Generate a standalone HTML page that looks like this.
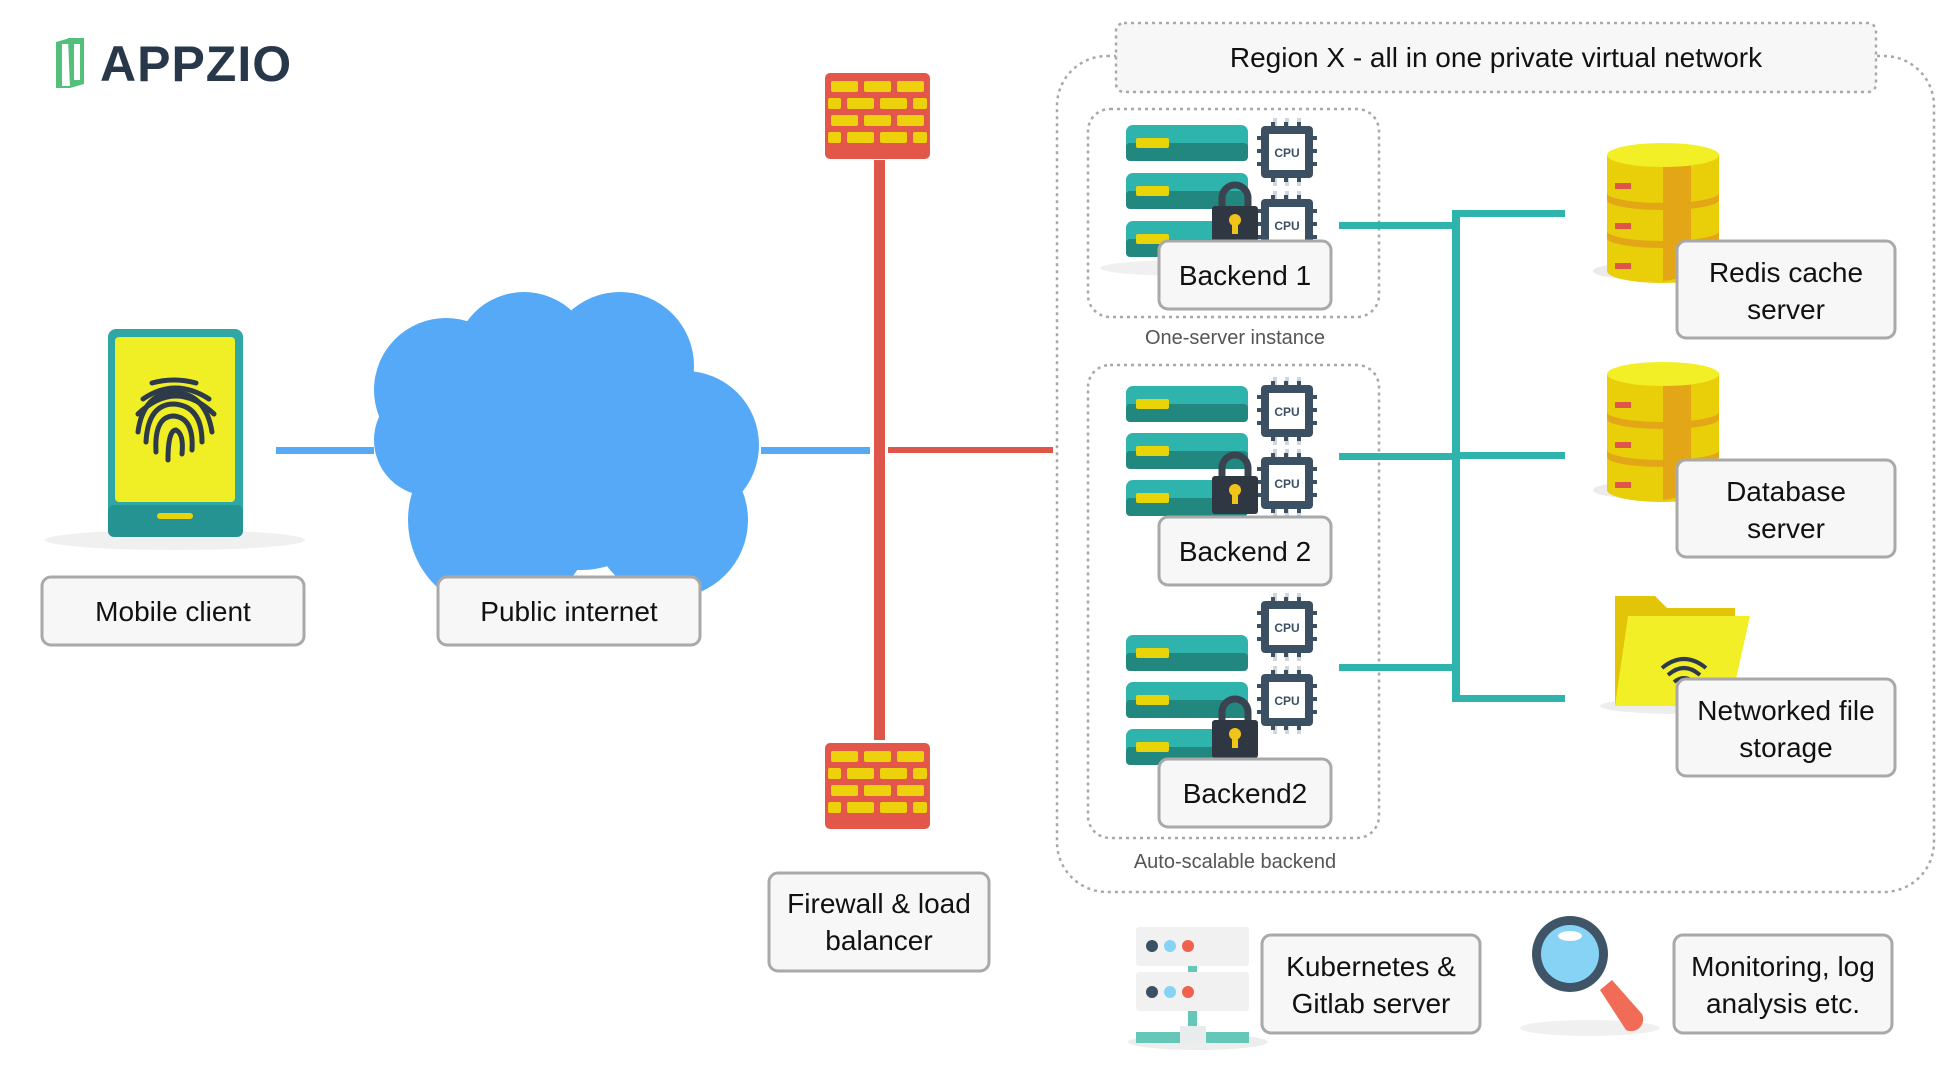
<!DOCTYPE html>
<html><head><meta charset="utf-8"><style>
html,body{margin:0;padding:0;background:#fff;}
svg{display:block;}
text{font-family:"Liberation Sans",sans-serif;}
</style></head><body>
<svg width="1956" height="1074" viewBox="0 0 1956 1074" xmlns="http://www.w3.org/2000/svg">
<defs>
<g id="stackrow">
  <rect x="0" y="0" width="122" height="36" rx="7" fill="#2fb3ad"/>
  <rect x="0" y="18" width="122" height="18" rx="4" fill="#22877f"/>
  <rect x="10" y="13" width="33" height="10" rx="2" fill="#e9d40a"/>
</g>
<g id="cpu">
  <g fill="#cfd6dc">
    <rect x="12" y="-8" width="4" height="8"/><rect x="24" y="-8" width="4" height="8"/><rect x="36" y="-8" width="4" height="8"/>
    <rect x="12" y="52" width="4" height="8"/><rect x="24" y="52" width="4" height="8"/><rect x="36" y="52" width="4" height="8"/>
  </g>
  <g fill="#3c5063">
    <rect x="-4" y="10" width="60" height="4"/><rect x="-4" y="23" width="60" height="4"/><rect x="-4" y="36" width="60" height="4"/>
    <rect x="10" y="-4" width="4" height="60"/><rect x="23" y="-4" width="4" height="60"/><rect x="36" y="-4" width="4" height="60"/>
  </g>
  <rect x="0" y="0" width="52" height="52" rx="4" fill="#3c5063"/>
  <rect x="8" y="8" width="36" height="36" fill="#fff"/>
  <text x="26" y="31" font-size="12" font-weight="bold" fill="#3c5063" text-anchor="middle">CPU</text>
</g>
<g id="lock">
  <path d="M10 28 V18 a13 13 0 0 1 26 0 V28" fill="none" stroke="#3a4450" stroke-width="7"/>
  <rect x="0" y="26" width="46" height="38" rx="3" fill="#2f3742"/>
  <circle cx="23" cy="40" r="6" fill="#f2c318"/><rect x="20" y="42" width="6" height="12" fill="#f2c318"/>
</g>
<g id="brick">
  <rect x="0" y="0" width="105" height="86" rx="5" fill="#e3574a"/>
  <g fill="#ecd10c">
    <rect x="6" y="8" width="27" height="11" rx="2"/><rect x="39" y="8" width="27" height="11" rx="2"/><rect x="72" y="8" width="27" height="11" rx="2"/>
    <rect x="3" y="25" width="13" height="11" rx="2"/><rect x="22" y="25" width="27" height="11" rx="2"/><rect x="55" y="25" width="27" height="11" rx="2"/><rect x="88" y="25" width="14" height="11" rx="2"/>
    <rect x="6" y="42" width="27" height="11" rx="2"/><rect x="39" y="42" width="27" height="11" rx="2"/><rect x="72" y="42" width="27" height="11" rx="2"/>
    <rect x="3" y="59" width="13" height="11" rx="2"/><rect x="22" y="59" width="27" height="11" rx="2"/><rect x="55" y="59" width="27" height="11" rx="2"/><rect x="88" y="59" width="14" height="11" rx="2"/>
  </g>
</g>
<g id="db">
  <ellipse cx="56" cy="128" rx="70" ry="10" fill="#000" opacity="0.08"/>
  <path d="M0 12 V128 a56 12 0 0 0 112 0 V12 Z" fill="#e8cf09"/>
  <path d="M84 12 V128 a56 12 0 0 1 -28 10 V12 Z" fill="#e2a617"/>
  <path d="M0 50 a56 10 0 0 0 112 0 v7 a56 10 0 0 1 -112 0Z" fill="#e2a617"/>
  <path d="M0 88 a56 10 0 0 0 112 0 v7 a56 10 0 0 1 -112 0Z" fill="#e2a617"/>
  <ellipse cx="56" cy="12" rx="56" ry="12" fill="#f2ef26"/>
  <rect x="8" y="40" width="16" height="6" fill="#e0554a"/><rect x="8" y="80" width="16" height="6" fill="#e0554a"/><rect x="8" y="120" width="16" height="6" fill="#e0554a"/>
  <path d="M98 170 v-18 a13 13 0 0 1 26 0 v18" fill="none" stroke="#3c4f61" stroke-width="5"/>
</g>
</defs>

<!-- logo -->
<path d="M56 42 L70 38 L70 88 L56 88 Z" fill="#52c07a"/>
<rect x="62" y="44" width="14" height="42" fill="#fff"/>
<path d="M68 38 L84 38 L84 84 L70 88 Z" fill="#52c07a"/>
<rect x="74" y="44" width="6" height="36" fill="#fff"/>
<text x="100" y="81" font-size="50" font-weight="bold" fill="#28384a" letter-spacing="1">APPZIO</text>

<!-- connectors -->
<rect x="276" y="447" width="98" height="7" fill="#55a9f7"/>
<rect x="761" y="447" width="109" height="7" fill="#55a9f7"/>
<rect x="874" y="160" width="11" height="580" fill="#e0554a"/>
<rect x="888" y="447" width="165" height="6" fill="#e0554a"/>

<!-- phone -->
<ellipse cx="175" cy="540" rx="130" ry="10" fill="#000" opacity="0.06"/>
<rect x="108" y="329" width="135" height="208" rx="8" fill="#2fa7a5"/>
<rect x="108" y="505" width="135" height="32" rx="6" fill="#249391"/>
<rect x="115" y="337" width="120" height="165" rx="4" fill="#f0ee24"/>
<rect x="157" y="513" width="36" height="6" rx="3" fill="#e9d40a"/>
<g fill="none" stroke="#2d3a4a" stroke-width="5" stroke-linecap="round" transform="translate(0,40)">
  <path d="M152 343 q22 -6 44 0"/>
  <path d="M143 359 q32 -22 66 0"/>
  <path d="M138 374 q38 -36 76 0"/>
  <path d="M138 392 q5 -38 36 -40 q32 2 38 40"/>
  <path d="M146 402 q2 -38 28 -38 q28 2 28 38"/>
  <path d="M156 412 q-2 -36 18 -36 q20 2 18 34"/>
  <path d="M168 420 q0 -30 8 -30 q8 4 6 24"/>
</g>

<!-- cloud -->
<g fill="#55a9f7">
  <circle cx="446" cy="390" r="72"/>
  <circle cx="524" cy="362" r="70"/>
  <circle cx="620" cy="366" r="74"/>
  <circle cx="685" cy="445" r="74"/>
  <circle cx="670" cy="520" r="78"/>
  <circle cx="500" cy="520" r="92"/>
  <circle cx="580" cy="470" r="100"/>
  <circle cx="430" cy="440" r="56"/>
</g>

<!-- firewalls -->
<use href="#brick" x="825" y="73"/>
<use href="#brick" x="825" y="743"/>

<!-- region -->
<rect x="1057" y="56" width="877" height="836" rx="50" fill="none" stroke="#a8a8a8" stroke-width="2.5" stroke-dasharray="3,4"/>
<rect x="1116" y="23" width="760" height="69" rx="8" fill="#f7f7f7" stroke="#a8a8a8" stroke-width="2.5" stroke-dasharray="3,4"/>
<text x="1496" y="67" font-size="28" text-anchor="middle" fill="#111">Region X - all in one private virtual network</text>
<rect x="1088" y="109" width="291" height="208" rx="22" fill="none" stroke="#a8a8a8" stroke-width="2.5" stroke-dasharray="3,4"/>
<text x="1235" y="344" font-size="20" text-anchor="middle" fill="#555">One-server instance</text>
<rect x="1088" y="365" width="291" height="473" rx="22" fill="none" stroke="#a8a8a8" stroke-width="2.5" stroke-dasharray="3,4"/>
<text x="1235" y="868" font-size="20" text-anchor="middle" fill="#555">Auto-scalable backend</text>

<!-- teal lines -->
<g fill="#2fb3ad">
  <rect x="1339" y="222" width="120" height="7"/>
  <rect x="1339" y="453" width="120" height="7"/>
  <rect x="1339" y="664" width="120" height="7"/>
  <rect x="1452" y="210" width="8" height="492"/>
  <rect x="1452" y="210" width="113" height="7"/>
  <rect x="1452" y="452" width="113" height="7"/>
  <rect x="1452" y="695" width="113" height="7"/>
</g>

<!-- backends -->
<g>
  <ellipse cx="1190" cy="268" rx="90" ry="8" fill="#000" opacity="0.06"/>
  <use href="#stackrow" x="1126" y="125"/><use href="#stackrow" x="1126" y="173"/><use href="#stackrow" x="1126" y="221"/>
  <use href="#cpu" x="1261" y="126"/><use href="#cpu" x="1261" y="199"/>
  <use href="#lock" x="1212" y="180"/>
</g>
<g>
  <use href="#stackrow" x="1126" y="386"/><use href="#stackrow" x="1126" y="433"/><use href="#stackrow" x="1126" y="480"/>
  <use href="#cpu" x="1261" y="385"/><use href="#cpu" x="1261" y="457"/>
  <use href="#lock" x="1212" y="450"/>
</g>
<g>
  <use href="#stackrow" x="1126" y="635"/><use href="#stackrow" x="1126" y="682"/><use href="#stackrow" x="1126" y="729"/>
  <use href="#cpu" x="1261" y="601"/><use href="#cpu" x="1261" y="674"/>
  <use href="#lock" x="1212" y="694"/>
</g>

<!-- DBs -->
<use href="#db" x="1607" y="143"/>
<use href="#db" x="1607" y="362"/>
<!-- folder -->
<ellipse cx="1680" cy="706" rx="80" ry="8" fill="#000" opacity="0.07"/>
<path d="M1615 596 h40 l12 12 h68 v98 h-120 Z" fill="#e2c409"/>
<path d="M1628 616 h122 l-20 90 h-115 Z" fill="#f2ef26"/>
<g fill="none" stroke="#2d3a4a" stroke-width="4">
  <path d="M1662 668 q22 -18 44 0"/><path d="M1668 675 q16 -14 32 0"/><path d="M1674 682 q10 -8 20 0"/>
</g>

<!-- kubernetes icon -->
<ellipse cx="1198" cy="1042" rx="70" ry="8" fill="#000" opacity="0.07"/>
<rect x="1136" y="927" width="113" height="39" rx="3" fill="#f1f1f1"/>
<rect x="1136" y="972" width="113" height="39" rx="3" fill="#f1f1f1"/>
<g><circle cx="1152" cy="946" r="6" fill="#3c5063"/><circle cx="1170" cy="946" r="6" fill="#86d3f5"/><circle cx="1188" cy="946" r="6" fill="#f0624d"/>
<circle cx="1152" cy="992" r="6" fill="#3c5063"/><circle cx="1170" cy="992" r="6" fill="#86d3f5"/><circle cx="1188" cy="992" r="6" fill="#f0624d"/></g>
<rect x="1188" y="966" width="9" height="6" fill="#65c7b8"/><rect x="1188" y="1011" width="9" height="15" fill="#65c7b8"/>
<rect x="1136" y="1032" width="113" height="11" fill="#65c7b8"/><rect x="1180" y="1026" width="26" height="17" fill="#e8ecec"/>

<!-- magnifier -->
<ellipse cx="1590" cy="1028" rx="70" ry="8" fill="#000" opacity="0.06"/>
<path d="M1600 990 l12 -10 l30 34 a12 12 0 0 1 -16 16 Z" fill="#f06c57"/>
<circle cx="1570" cy="954" r="38" fill="#3f5567"/>
<circle cx="1570" cy="954" r="29" fill="#86d3f5"/>
<ellipse cx="1570" cy="936" rx="12" ry="5" fill="#fff"/>

<!-- label boxes -->
<g fill="#f7f7f7" stroke="#a9a9a9" stroke-width="3">
  <rect x="42" y="577" width="262" height="68" rx="9"/>
  <rect x="438" y="577" width="262" height="68" rx="9"/>
  <rect x="769" y="873" width="220" height="98" rx="9"/>
  <rect x="1159" y="241" width="172" height="68" rx="9"/>
  <rect x="1159" y="517" width="172" height="68" rx="9"/>
  <rect x="1159" y="759" width="172" height="68" rx="9"/>
  <rect x="1677" y="241" width="218" height="97" rx="9"/>
  <rect x="1677" y="460" width="218" height="97" rx="9"/>
  <rect x="1677" y="679" width="218" height="97" rx="9"/>
  <rect x="1262" y="935" width="218" height="98" rx="9"/>
  <rect x="1674" y="935" width="218" height="98" rx="9"/>
</g>
<g font-size="28" fill="#111" text-anchor="middle">
  <text x="173" y="621">Mobile client</text>
  <text x="569" y="621">Public internet</text>
  <text x="879" y="913">Firewall &amp; load</text>
  <text x="879" y="950">balancer</text>
  <text x="1245" y="285">Backend 1</text>
  <text x="1245" y="561">Backend 2</text>
  <text x="1245" y="803">Backend2</text>
  <text x="1786" y="282">Redis cache</text>
  <text x="1786" y="319">server</text>
  <text x="1786" y="501">Database</text>
  <text x="1786" y="538">server</text>
  <text x="1786" y="720">Networked file</text>
  <text x="1786" y="757">storage</text>
  <text x="1371" y="976">Kubernetes &amp;</text>
  <text x="1371" y="1013">Gitlab server</text>
  <text x="1783" y="976">Monitoring, log</text>
  <text x="1783" y="1013">analysis etc.</text>
</g>
</svg>
</body></html>
